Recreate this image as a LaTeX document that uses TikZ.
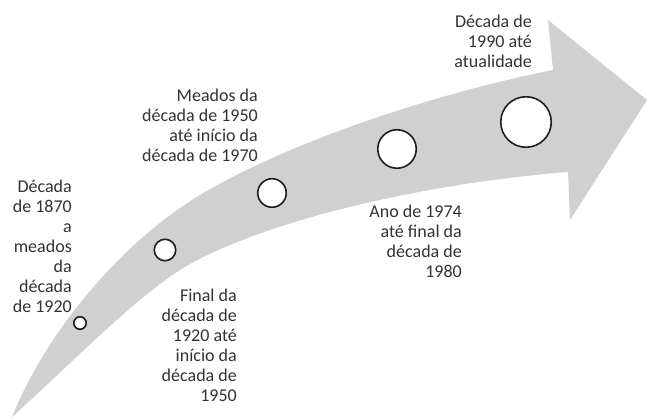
\documentclass[tikz,border=0pt]{standalone}
\usepackage{fontspec}
\setmainfont{Carlito}
\definecolor{arrowgray}{RGB}{208,208,208}
\definecolor{txtgray}{RGB}{50,50,50}
\definecolor{ringgray}{RGB}{30,30,30}
\begin{document}
\begin{tikzpicture}[x=1pt,y=-1pt,
  dot/.style={circle, draw=ringgray, fill=white, line width=1.6pt, inner sep=0pt},
  lbl/.style={font=\fontsize{18}{20}\selectfont, align=right, inner sep=0pt, text=txtgray, anchor=base east}]
\useasboundingbox (0,0) rectangle (647,417);
% curved arrow
\fill[arrowgray] (12,417) .. controls (46.5,331) and (122,242) .. (200,195)
  .. controls (281.6,146) and (423,96) .. (553,70)
  -- (548,20) -- (647,100) -- (570,220) -- (568,172)
  .. controls (420,183.8) and (268.8,220.6) .. (190,264)
  .. controls (140,292) and (70,365) .. cycle;
% milestones
\node[dot, minimum size=12.5pt] (c1) at (80,323) {};
\node[dot, minimum size=21.5pt] (c2) at (165,250) {};
\node[dot, minimum size=28.5pt] (c3) at (272,193) {};
\node[dot, minimum size=38.5pt] (c4) at (397,149) {};
\node[dot, minimum size=50.5pt] (c5) at (526,122) {};
% labels (base anchor = baseline of the last line)
\node[lbl] (t1) at (72,312) {Década\\de 1870\\a\\meados\\da\\década\\de 1920};
\node[lbl] (t2) at (237,401) {Final da\\década de\\1920 até\\início da\\década de\\1950};
\node[lbl] (t3) at (258,161) {Meados da\\década de 1950\\até início da\\década de 1970};
\node[lbl] (t4) at (462,277) {Ano de 1974\\até final da\\década de\\1980};
\node[lbl] (t5) at (532,68) {Década de\\1990 até\\atualidade};
\end{tikzpicture}
\end{document}
